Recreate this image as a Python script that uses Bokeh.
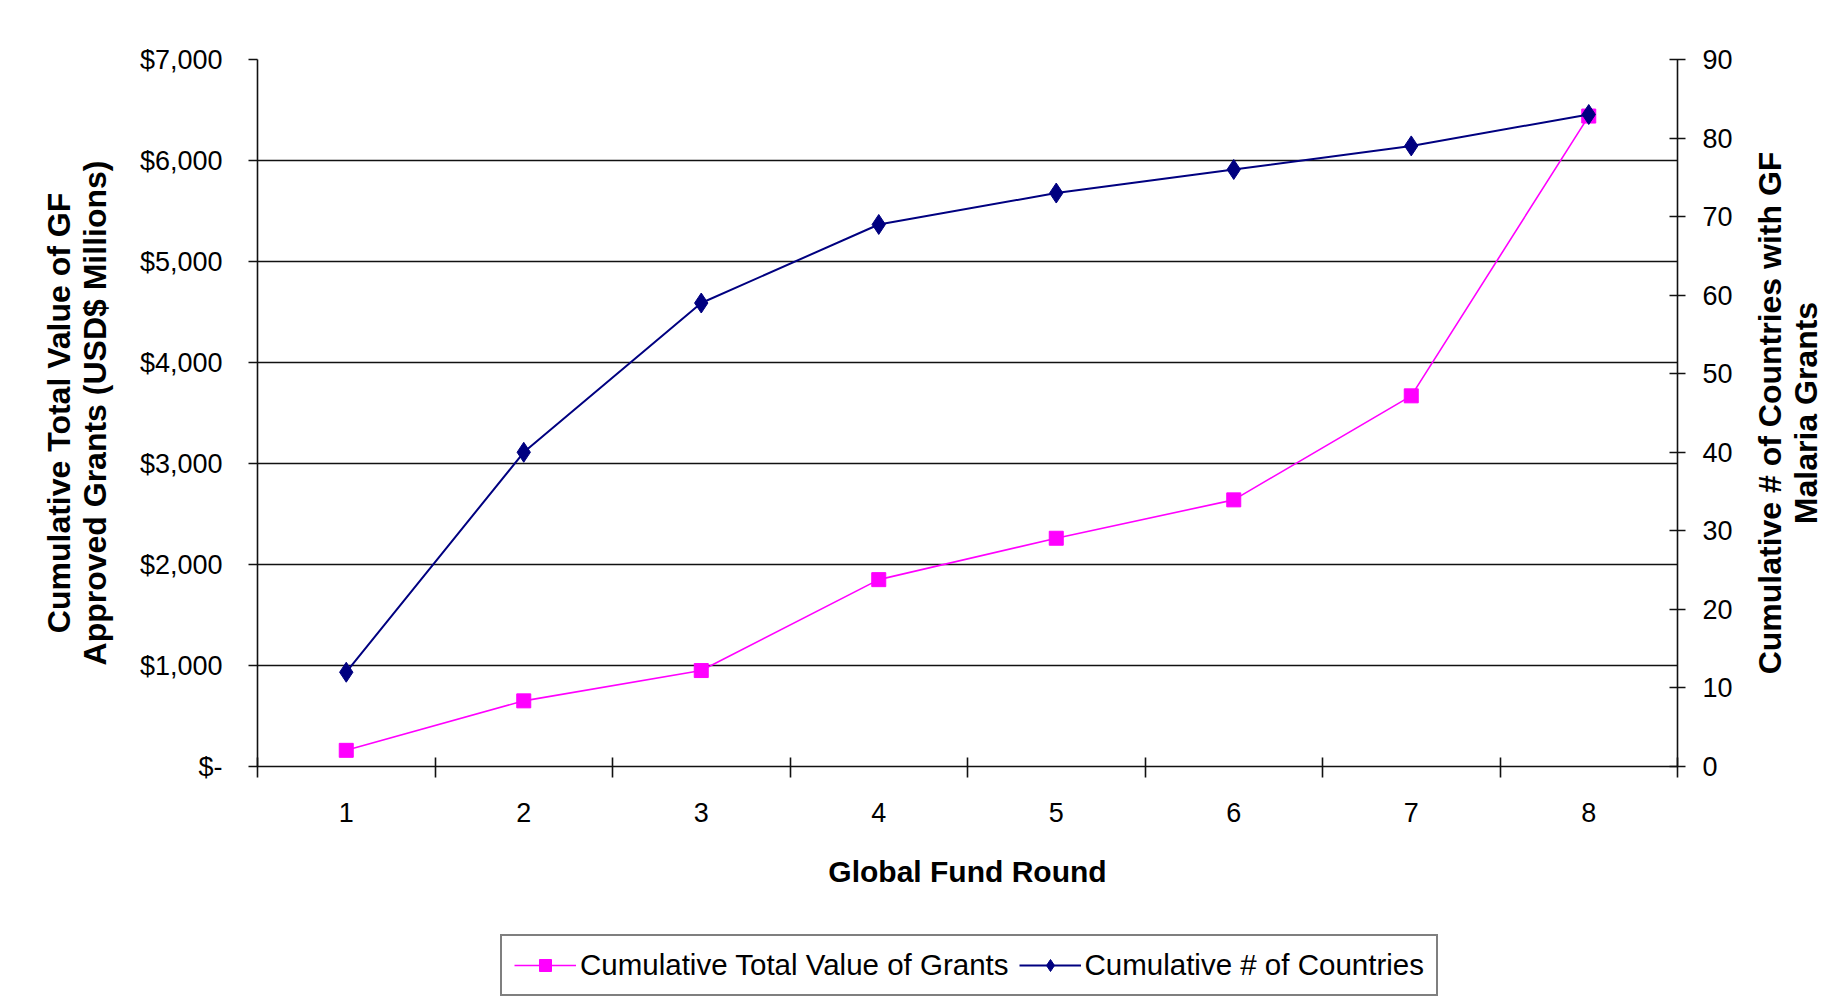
from bokeh.plotting import figure
from bokeh.layouts import row, column
from bokeh.models import (Range1d, LinearAxis, FixedTicker, NumeralTickFormatter,
                          Legend, LegendItem)
from bokeh.embed import file_html
from bokeh.resources import INLINE

# ---- data ----
rounds = [1, 2, 3, 4, 5, 6, 7, 8]
total_value = [160, 650, 950, 1850, 2260, 2640, 3670, 6440]   # USD$ millions (left axis)
countries = [12, 40, 59, 69, 73, 76, 79, 83]                 # count (right axis)
left_ticks = [0, 1000, 2000, 3000, 4000, 5000, 6000, 7000]
right_ticks = [0, 10, 20, 30, 40, 50, 60, 70, 80, 90]
round_boundaries = [0.5, 1.5, 2.5, 3.5, 4.5, 5.5, 6.5, 7.5, 8.5]
series_names = ["Cumulative Total Value of Grants", "Cumulative # of Countries"]
left_title = "Cumulative Total Value of GF\nApproved Grants (USD$ Millions)"
right_title = "Cumulative # of Countries with GF\nMalaria Grants"
x_title = "Global Fund Round"

FONT = "Liberation Sans"
PINK = "#FF00FF"
NAVY = "#000080"
INK = "#111111"

MAIN_W_LEFT, FRAME_W, MAIN_W_RIGHT = 257, 1420, 60
TOP, FRAME_H, MAIN_BOTTOM = 59, 707, 159
LEG_H = 75


def bare(fig):
    fig.outline_line_color = None
    fig.xgrid.visible = False
    fig.ygrid.visible = False
    fig.background_fill_color = "white"
    fig.border_fill_color = "white"


# ---------------- main chart ----------------
p = figure(frame_width=FRAME_W, frame_height=FRAME_H,
           min_border_left=MAIN_W_LEFT, min_border_right=MAIN_W_RIGHT,
           min_border_top=TOP, min_border_bottom=MAIN_BOTTOM,
           x_range=Range1d(0.5, 8.5), y_range=Range1d(0, 7000),
           output_backend="svg", toolbar_location=None,
           background_fill_color="white", border_fill_color="white",
           y_axis_location=None, x_axis_location=None)
p.outline_line_color = None
p.extra_y_ranges = {"right": Range1d(0, 90)}

p.xgrid.visible = False
p.ygrid.ticker = FixedTicker(ticks=left_ticks)
p.ygrid.grid_line_color = INK
p.ygrid.grid_line_width = 1.6

xaxis = LinearAxis(ticker=FixedTicker(ticks=rounds, minor_ticks=round_boundaries))
xaxis.major_tick_in = 0
xaxis.major_tick_out = 0
xaxis.minor_tick_in = 9
xaxis.minor_tick_out = 11
xaxis.minor_tick_line_color = INK
xaxis.minor_tick_line_width = 1.6
xaxis.axis_line_color = INK
xaxis.axis_line_width = 1.6
xaxis.major_label_standoff = 25
xaxis.major_label_text_font = FONT
xaxis.major_label_text_font_size = "27px"
xaxis.major_label_text_color = "#000000"
xaxis.axis_label = x_title
xaxis.axis_label_text_font = FONT
xaxis.axis_label_text_font_style = "bold"
xaxis.axis_label_text_font_size = "30px"
xaxis.axis_label_text_color = "#000000"
xaxis.axis_label_standoff = 30
p.add_layout(xaxis, "below")

laxis = LinearAxis(ticker=FixedTicker(ticks=left_ticks),
                   formatter=NumeralTickFormatter(format="$0,0"))
laxis.major_label_overrides = {0: "$-"}
laxis.major_tick_in = 0
laxis.major_tick_out = 9
laxis.minor_tick_line_color = None
laxis.major_tick_line_color = INK
laxis.major_tick_line_width = 1.6
laxis.axis_line_color = INK
laxis.axis_line_width = 1.6
laxis.major_label_standoff = 26
laxis.major_label_text_font = FONT
laxis.major_label_text_font_size = "27px"
laxis.major_label_text_color = "#000000"
laxis.axis_label = left_title
laxis.axis_label_text_font = FONT
laxis.axis_label_text_font_style = "bold"
laxis.axis_label_text_font_size = "32px"
laxis.axis_label_text_line_height = 1.0
laxis.axis_label_text_color = "#000000"
laxis.axis_label_standoff = 24
p.add_layout(laxis, "left")

raxis = LinearAxis(y_range_name="right", ticker=FixedTicker(ticks=right_ticks))
raxis.major_tick_in = 8
raxis.major_tick_out = 8
raxis.minor_tick_line_color = None
raxis.major_tick_line_color = INK
raxis.major_tick_line_width = 1.6
raxis.axis_line_color = INK
raxis.axis_line_width = 1.6
raxis.major_label_standoff = 17
raxis.major_label_text_font = FONT
raxis.major_label_text_font_size = "27px"
raxis.major_label_text_color = "#000000"
p.add_layout(raxis, "right")

p.line(rounds, total_value, line_color=PINK, line_width=1.6)
p.scatter(rounds, total_value, marker="square", size=14, fill_color=PINK, line_color=PINK)
p.line(rounds, countries, y_range_name="right", line_color=NAVY, line_width=2)
p.scatter(rounds, countries, y_range_name="right", marker="diamond", size=20,
          fill_color=NAVY, line_color=NAVY)

# ---------------- legend strip below the chart ----------------
main_width = MAIN_W_LEFT + FRAME_W + MAIN_W_RIGHT
pl = figure(frame_width=main_width, frame_height=LEG_H,
            min_border_left=0, min_border_right=0, min_border_top=0, min_border_bottom=0,
            x_range=Range1d(-100, -99), y_range=Range1d(-100, -99),
            output_backend="svg", toolbar_location=None,
            x_axis_location=None, y_axis_location=None)
bare(pl)
l1 = pl.line(rounds, total_value, line_color=PINK, line_width=1.6)
m1 = pl.scatter(rounds, total_value, marker="square", size=14, fill_color=PINK, line_color=PINK)
l2 = pl.line(rounds, countries, line_color=NAVY, line_width=2)
m2 = pl.scatter(rounds, countries, marker="diamond", size=20, fill_color=NAVY, line_color=NAVY)

legend = Legend(items=[LegendItem(label=series_names[0], renderers=[l1, m1]),
                       LegendItem(label=series_names[1], renderers=[l2, m2])],
                orientation="horizontal", location=(500, 4))
legend.label_text_font = FONT
legend.label_text_font_size = "29.5px"
legend.label_text_color = "#000000"
legend.glyph_width = 62
legend.glyph_height = 30
legend.label_standoff = 4
legend.spacing = 10
legend.padding = 12
legend.margin = 0
legend.border_line_color = "#000000"
legend.border_line_width = 2
legend.background_fill_color = "white"
legend.background_fill_alpha = 1
pl.add_layout(legend, "center")

# ---------------- right-hand axis title (reads bottom to top) ----------------
pt = figure(frame_width=1, frame_height=FRAME_H,
            min_border_left=86, min_border_right=0,
            min_border_top=TOP, min_border_bottom=MAIN_BOTTOM,
            x_range=Range1d(0, 1), y_range=Range1d(0, 90),
            output_backend="svg", toolbar_location=None,
            x_axis_location=None, y_axis_location=None)
bare(pt)
taxis = LinearAxis(ticker=FixedTicker(ticks=[]))
taxis.axis_line_color = None
taxis.major_tick_line_color = None
taxis.minor_tick_line_color = None
taxis.axis_label = right_title
taxis.axis_label_standoff = 0
taxis.axis_label_text_font = FONT
taxis.axis_label_text_font_style = "bold"
taxis.axis_label_text_font_size = "32px"
taxis.axis_label_text_line_height = 1.0
taxis.axis_label_text_color = "#000000"
pt.add_layout(taxis, "left")

layout = row(column(p, pl), pt)
open("out.html", "w").write(file_html(layout, INLINE))
